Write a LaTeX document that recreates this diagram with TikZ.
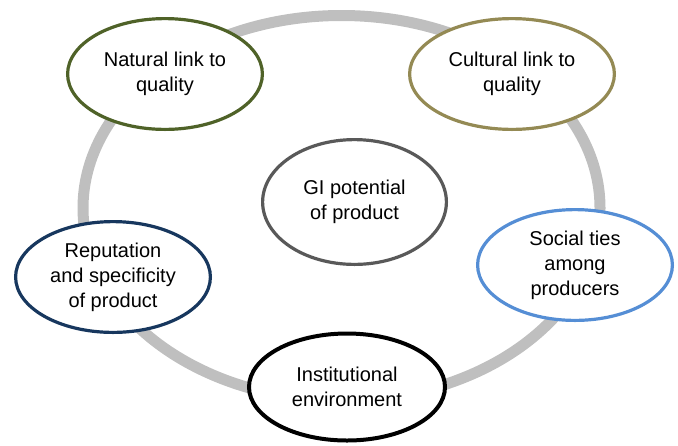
\documentclass[tikz,border=0pt]{standalone}
\usepackage{fontspec}
\setmainfont{Liberation Sans}
\usetikzlibrary{shapes.geometric}
\definecolor{ringgray}{HTML}{BFBFBF}
\definecolor{naturalgreen}{HTML}{4F6228}
\definecolor{culturalkhaki}{HTML}{948A54}
\definecolor{gigray}{HTML}{595959}
\definecolor{reputationblue}{HTML}{17375E}
\definecolor{socialblue}{HTML}{558ED5}
\tikzset{
    bubble/.style={ellipse, draw, fill=white, line width=1.6pt, inner sep=0pt,
        align=center, font=\fontsize{10}{12.5}\selectfont,
        minimum width=97.4pt, minimum height=55.4pt}
}
\begin{document}
\begin{tikzpicture}[x=0.5pt, y=-0.5pt]
            \useasboundingbox (0,0) rectangle (678,445);
            % ring behind the bubbles
            \draw[ringgray, line width=5.5pt] (341.5,208) ellipse [x radius=258.5, y radius=192.5];

            % top row
            \node[bubble, draw=naturalgreen] (natural) at (165,74) {Natural link to\\quality};
            \node[bubble, draw=culturalkhaki, minimum width=102.4pt] (cultural) at (512,74) {Cultural link to\\quality};
            % centre
            \node[bubble, draw=gigray, minimum width=91.9pt, minimum height=62.4pt] (potential) at (354.5,202) {GI potential\\of product};
            % sides
            \node[bubble, draw=reputationblue] (reputation) at (113,277) {Reputation\\and specificity\\of product};
            \node[bubble, draw=socialblue] (social) at (575,265) {Social ties\\among\\producers};
            % bottom
            \node[bubble, draw=black, line width=2pt, minimum width=98pt, minimum height=53.5pt] (institutional) at (347,387) {Institutional\\environment};
        \end{tikzpicture}
\end{document}
